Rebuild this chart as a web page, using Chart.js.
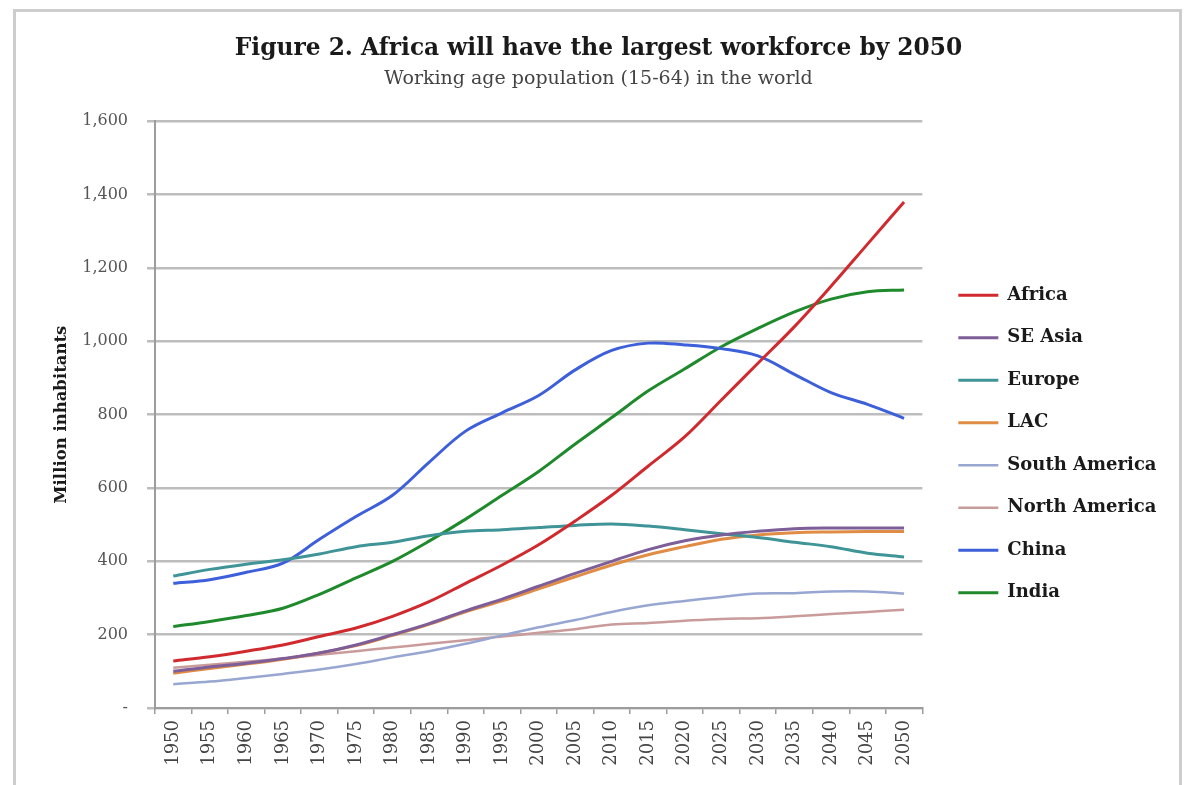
<!DOCTYPE html>
<html>
<head>
<meta charset="utf-8">
<script src="https://cdn.jsdelivr.net/npm/chart.js@4/dist/chart.umd.min.js"></script>
<style>
  body { margin: 0; background: #fff; }
  #frame {
    position: absolute; left: 13px; top: 9px; width: 1169px; height: 800px;
    border: 3px solid #cdcdcd; box-sizing: border-box;
  }
  #chart { position: absolute; left: 0; top: 0; }
</style>
</head>
<body>
<div id="frame"></div>
<canvas id="chart" width="1187" height="785"></canvas>
<script>
const years = ['1950', '1955', '1960', '1965', '1970', '1975', '1980', '1985', '1990', '1995', '2000',
  '2005', '2010', '2015', '2020', '2025', '2030', '2035', '2040', '2045', '2050']

// working age population, millions
const africa = [128, 140, 155, 172, 195, 218, 250, 290, 340, 390, 445, 510, 580, 660, 740, 840, 940, 1040, 1150, 1265, 1380]
const seAsia = [100, 112, 122, 135, 150, 172, 200, 230, 265, 297, 332, 367, 400, 432, 456, 472, 482, 489, 491, 491, 491]
const europe = [360, 378, 392, 404, 420, 440, 452, 470, 482, 486, 492, 498, 502, 496, 486, 475, 465, 452, 440, 422, 412]
const lac = [95, 108, 120, 133, 150, 170, 198, 228, 262, 292, 325, 358, 390, 418, 440, 460, 472, 478, 480, 481, 481]
const southAmerica = [65, 72, 82, 93, 105, 120, 138, 155, 175, 198, 220, 240, 262, 280, 292, 303, 312, 313, 318, 318, 312]
const northAmerica = [110, 118, 126, 135, 145, 155, 165, 175, 185, 195, 205, 215, 228, 232, 238, 243, 245, 250, 256, 262, 268]
const china = [340, 350, 370, 395, 460, 522, 580, 670, 755, 805, 852, 922, 975, 995, 990, 980, 960, 910, 860, 828, 790]
const india = [222, 236, 252, 272, 310, 355, 400, 455, 515, 580, 645, 720, 792, 865, 925, 985, 1035, 1080, 1115, 1135, 1140]

const seriesNames = ['Africa', 'SE Asia', 'Europe', 'LAC', 'South America', 'North America', 'China', 'India']
const seriesData = [africa, seAsia, europe, lac, southAmerica, northAmerica, china, india]
const seriesColors = ['#d02a2f', '#7d5e98', '#3f9497', '#e08c45', '#98a6d2', '#c99b9b', '#3d5fd9', '#1f8a2c']
const seriesWidths = [3, 3, 3, 3, 2.5, 2.5, 3, 3]

const serif = 'DejaVu Serif'

// legend column sits right of the plot, a little lower than centre;
// the heading is nudged to the middle of the frame
const layoutTweaks = {
  id: 'layoutTweaks',
  afterLayout(chart) {
    const lg = chart.legend
    const pad = lg.options.labels.padding
    const dx = chart.chartArea.right + 36 - (lg.left + pad)
    lg.left += dx
    lg.right += dx
    const dy = chart.chartArea.top + 165 - (lg.top + pad)
    lg.top += dy
    lg.bottom += dy

    chart.boxes.filter(b => b.position === 'top').forEach(b => {
      b.left += 11
      b.right += 11
    })
  }
}

new Chart(document.getElementById('chart'), {
  type: 'line',
  data: {
    labels: years,
    datasets: seriesNames.map((name, i) => ({
      label: name,
      data: seriesData[i],
      borderColor: seriesColors[i],
      backgroundColor: seriesColors[i],
      borderWidth: seriesWidths[i],
      pointRadius: 0,
      pointStyle: 'line',
      tension: 0.35
    }))
  },
  options: {
    responsive: false,
    animation: false,
    layout: { padding: { top: 3, left: 20, right: 32, bottom: 6 } },
    plugins: {
      title: {
        display: true,
        text: 'Figure 2. Africa will have the largest workforce by 2050',
        font: { family: serif, size: 23.3, weight: 'bold' },
        color: '#1a1a1a',
        padding: { top: 32, bottom: 5 }
      },
      subtitle: {
        display: true,
        text: 'Working age population (15-64) in the world',
        font: { family: serif, size: 19 },
        color: '#444',
        padding: { top: 0, bottom: 30.5 }
      },
      legend: {
        position: 'right',
        align: 'start',
        labels: {
          usePointStyle: true,
          pointStyleWidth: 40,
          padding: 24.5,
          color: '#1a1a1a',
          font: { family: serif, size: 18, weight: 'bold' }
        }
      },
      tooltip: { enabled: false }
    },
    scales: {
      x: {
        offset: true,
        grid: { offset: true, drawOnChartArea: false, tickLength: 6, color: '#9c9c9c', lineWidth: 1.5 },
        border: { color: '#9c9c9c', width: 2 },
        ticks: {
          autoSkip: false,
          minRotation: 90,
          maxRotation: 90,
          padding: 6,
          color: '#444',
          font: { family: serif, size: 18 }
        },
        afterFit(scale) { scale.height = 71 }
      },
      y: {
        min: 0,
        max: 1600,
        grid: { color: '#bdbdbd', lineWidth: 2.5, tickLength: 8 },
        border: { color: '#9c9c9c', width: 2 },
        ticks: {
          stepSize: 200,
          padding: 19,
          color: '#555',
          font: { family: serif, size: 16 },
          callback: v => v === 0 ? '-' : v.toLocaleString('en-US')
        },
        title: {
          display: true,
          text: 'Million inhabitants',
          color: '#1a1a1a',
          font: { family: serif, size: 16.5, weight: 'bold' },
          padding: { top: 32, bottom: 0 }
        },
        afterFit(scale) { scale.width = 135 }
      }
    }
  },
  plugins: [layoutTweaks]
})
</script>
</body>
</html>
